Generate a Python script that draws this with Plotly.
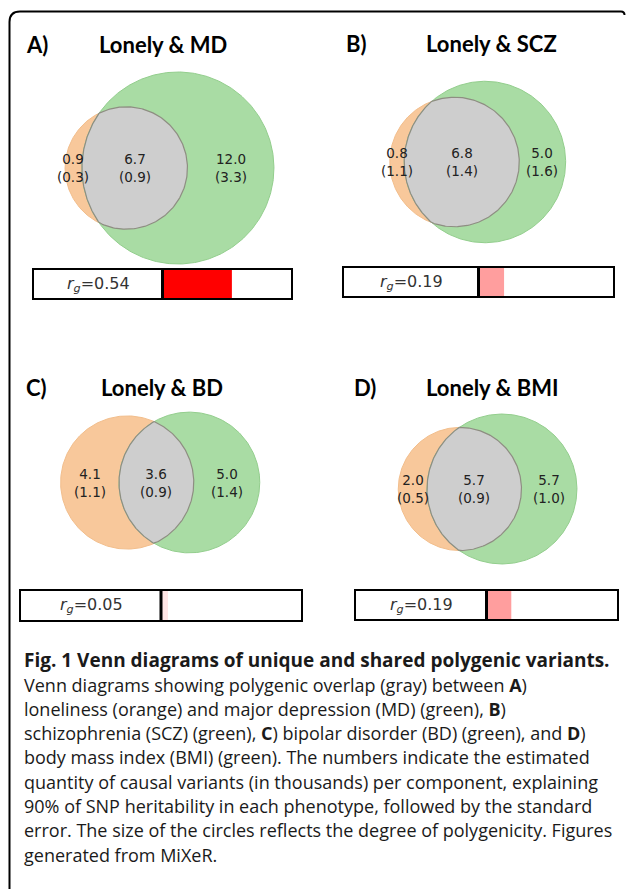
import numpy as np
import plotly.graph_objects as go

W, H = 627, 889

# ---------------- data ----------------
panel_tags = ["A)", "B)", "C)", "D)"]
titles = ["Lonely & MD", "Lonely & SCZ", "Lonely & BD", "Lonely & BMI"]
lonely_only = [0.9, 0.8, 4.1, 2.0]
lonely_only_se = [0.3, 1.1, 1.1, 0.5]
shared = [6.7, 6.8, 3.6, 5.7]
shared_se = [0.9, 1.4, 0.9, 0.9]
other_only = [12.0, 5.0, 5.0, 5.7]
other_only_se = [3.3, 1.6, 1.4, 1.0]
rg = [0.54, 0.19, 0.05, 0.19]

caption_lines = [
    "<b>Fig. 1 Venn diagrams of unique and shared polygenic variants.</b>",
    "Venn diagrams showing polygenic overlap (gray) between <b>A</b>)",
    "loneliness (orange) and major depression (MD) (green), <b>B</b>)",
    "schizophrenia (SCZ) (green), <b>C</b>) bipolar disorder (BD) (green), and <b>D</b>)",
    "body mass index (BMI) (green). The numbers indicate the estimated",
    "quantity of causal variants (in thousands) per component, explaining",
    "90% of SNP heritability in each phenotype, followed by the standard",
    "error. The size of the circles reflects the degree of polygenicity. Figures",
    "generated from MiXeR.",
]

# ---------------- layout (pixel positions) ----------------
scale_k = [22.2, 23.5, 24.0, 22.2]
venn_anchor = [(163, 168), (473, 162), (160, 482.5), (485, 489)]
tag_pos = [(24, 44), (344, 43), (24, 387), (352, 387)]
title_pos = [(163, 44), (491, 43), (162, 387), (492, 387)]
rg_box = [(34, 270, 291, 298), (344, 268, 613, 296), (21, 591, 301, 620), (356, 591, 617, 619)]
caption_y = [660, 685, 709, 733, 757, 782, 806, 830, 855]

ORANGE = "#F8C89B"
GREEN = "#A9DCA4"
GRAY = "#CECECE"
TXT = "#222222"


def lens_area(r1, r2, d):
    if d >= r1 + r2:
        return 0.0
    if d <= abs(r1 - r2):
        return np.pi * min(r1, r2) ** 2
    a1 = r1 ** 2 * np.arccos((d * d + r1 * r1 - r2 * r2) / (2 * d * r1))
    a2 = r2 ** 2 * np.arccos((d * d + r2 * r2 - r1 * r1) / (2 * d * r2))
    a3 = 0.5 * np.sqrt((-d + r1 + r2) * (d + r1 - r2) * (d - r1 + r2) * (d + r1 + r2))
    return a1 + a2 - a3


def solve_d(r1, r2, target):
    lo, hi = abs(r1 - r2) + 1e-9, r1 + r2
    for _ in range(200):
        mid = 0.5 * (lo + hi)
        if lens_area(r1, r2, mid) > target:
            lo = mid
        else:
            hi = mid
    return 0.5 * (lo + hi)


fig = go.Figure()
annotations = []
shapes = []

for i in range(4):
    k = scale_k[i]
    ax, ay = venn_anchor[i]
    r1 = k * np.sqrt(lonely_only[i] + shared[i])
    r2 = k * np.sqrt(other_only[i] + shared[i])
    d = solve_d(r1, r2, np.pi * k * k * shared[i])
    x1 = ax - d * r2 ** 2 / (r1 ** 2 + r2 ** 2)
    x2 = x1 + d
    t = np.linspace(0, 2 * np.pi, 361)
    # orange circle
    fig.add_trace(go.Scatter(x=x1 + r1 * np.cos(t), y=ay + r1 * np.sin(t), mode="lines",
                             fill="toself", fillcolor=ORANGE, line=dict(color="#F2BE8C", width=1),
                             hoverinfo="skip", showlegend=False))
    # green circle
    fig.add_trace(go.Scatter(x=x2 + r2 * np.cos(t), y=ay + r2 * np.sin(t), mode="lines",
                             fill="toself", fillcolor=GREEN, line=dict(color="#93CE8D", width=1),
                             hoverinfo="skip", showlegend=False))
    # intersection lens
    xi = (d * d + r1 * r1 - r2 * r2) / (2 * d)
    h = np.sqrt(max(r1 * r1 - xi * xi, 0))
    th1 = np.arctan2(h, xi)
    th2 = np.arctan2(h, xi - d)
    a_or = np.linspace(-th1, th1, 200)
    a_gr = np.linspace(th2, 2 * np.pi - th2, 200)
    lx = np.concatenate([x1 + r1 * np.cos(a_or), x2 + r2 * np.cos(a_gr)])
    ly = np.concatenate([ay + r1 * np.sin(a_or), ay + r2 * np.sin(a_gr)])
    lx = np.append(lx, lx[0])
    ly = np.append(ly, ly[0])
    fig.add_trace(go.Scatter(x=lx, y=ly, mode="lines", fill="toself", fillcolor=GRAY,
                             line=dict(color="#8E8E82", width=1.2),
                             hoverinfo="skip", showlegend=False))
    # labels
    xs = [(x1 - r1 + x2 - r2) / 2, (x2 - r2 + x1 + r1) / 2, (x1 + r1 + x2 + r2) / 2]
    vals = [(lonely_only[i], lonely_only_se[i]), (shared[i], shared_se[i]), (other_only[i], other_only_se[i])]
    for xx, (v, se) in zip(xs, vals):
        annotations.append(dict(x=xx, y=ay, xref="x", yref="y", showarrow=False,
                                text=f"{v:.1f}<br>({se:.1f})", align="center",
                                font=dict(family="DejaVu Sans", size=13.5, color=TXT),
                                xanchor="center", yanchor="middle"))
    # titles
    annotations.append(dict(x=tag_pos[i][0], y=tag_pos[i][1], xref="x", yref="y", showarrow=False,
                            text=f"<b>{panel_tags[i]}</b>", xanchor="left", yanchor="middle",
                            font=dict(family="Lato", size=22, color="black")))
    annotations.append(dict(x=title_pos[i][0], y=title_pos[i][1], xref="x", yref="y", showarrow=False,
                            text=f"<b>{titles[i]}</b>", xanchor="center", yanchor="middle",
                            font=dict(family="Lato", size=22, color="black")))

    # r_g bar on its own small axes
    n = i + 2
    bx0, by0, bx1, by1 = rg_box[i]
    alpha = min(1.0, abs(rg[i]) / 0.5)
    fig.add_trace(go.Bar(x=[rg[i]], y=[0.5], base=0, orientation="h", width=1,
                         marker=dict(color=f"rgba(255,0,0,{alpha:.3f})", line=dict(width=0)),
                         xaxis=f"x{n}", yaxis=f"y{n}", hoverinfo="skip", showlegend=False))
    axis_common = dict(showgrid=False, zeroline=False, showticklabels=False, ticks="",
                       showline=True, mirror=True, linecolor="black", linewidth=1.5, fixedrange=True)
    fig.update_layout(**{
        f"xaxis{n}": dict(domain=[bx0 / W, bx1 / W], range=[-1, 1], anchor=f"y{n}", **axis_common),
        f"yaxis{n}": dict(domain=[1 - by1 / H, 1 - by0 / H], range=[0, 1], anchor=f"x{n}", **axis_common),
    })
    shapes.append(dict(type="line", xref=f"x{n}", yref=f"y{n} domain", x0=0, x1=0, y0=0, y1=1,
                       line=dict(color="black", width=3), layer="above"))
    annotations.append(dict(x=-0.5, y=0.5, xref=f"x{n}", yref=f"y{n} domain", showarrow=False,
                            text=f"<i>r</i><sub><i>g</i></sub>=%.2f" % rg[i], xanchor="center", yanchor="middle",
                            font=dict(family="DejaVu Sans", size=16, color="#333333")))

# caption
for j, (line, yy) in enumerate(zip(caption_lines, caption_y)):
    annotations.append(dict(x=22, y=yy, xref="x", yref="y", showarrow=False, text=line,
                            xanchor="left", yanchor="middle", align="left",
                            font=dict(family="Open Sans", size=19 if j == 0 else 18, color="#1a1a1a")))

# outer rounded frame
shapes.append(dict(type="path", xref="x", yref="y",
                   path="M 9.5,889 L 9.5,22 Q 9.5,11.5 20,11.5 L 621,11.5 Q 624.5,11.5 624.5,15",
                   line=dict(color="black", width=2), layer="above"))

fig.update_layout(
    width=W, height=H,
    margin=dict(l=0, r=0, t=0, b=0),
    paper_bgcolor="white", plot_bgcolor="white",
    xaxis=dict(range=[0, W], domain=[0, 1], visible=False, fixedrange=True),
    yaxis=dict(range=[H, 0], domain=[0, 1], visible=False, fixedrange=True),
    annotations=annotations, shapes=shapes, showlegend=False,
)

fig.write_html("out.html", config={"displayModeBar": False},
               post_script="document.body.style.margin='0';document.body.style.overflow='hidden';")
